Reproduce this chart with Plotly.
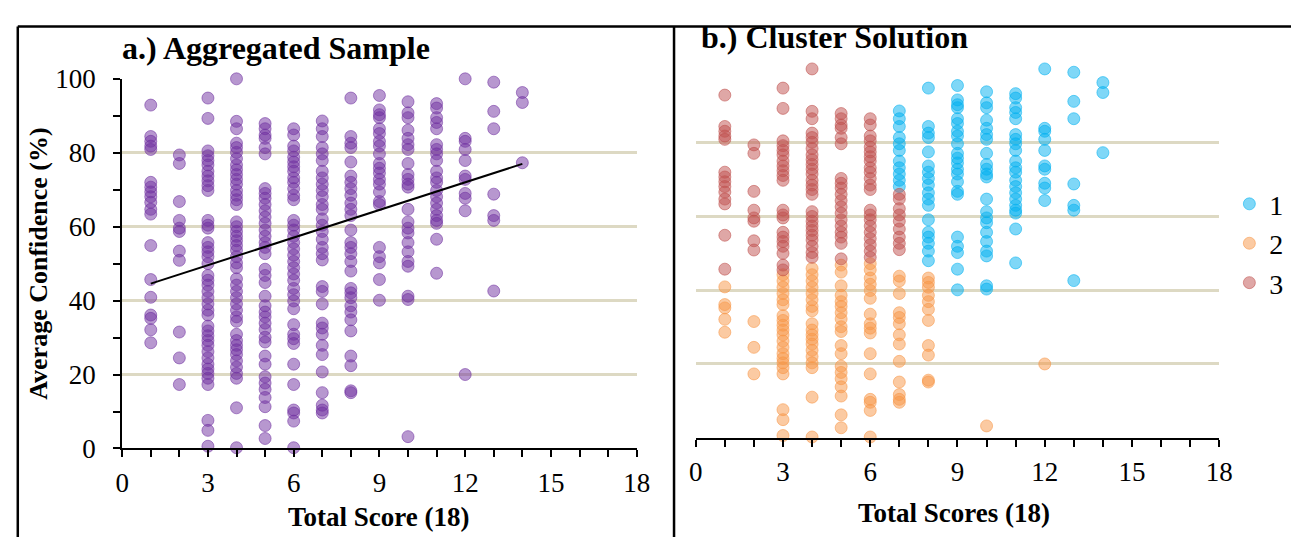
import plotly.graph_objects as go

# Total score (out of 18) and average confidence (%) per respondent, split by cluster.
# Cluster 1: higher scores, mid-to-high confidence
c1_score = (
    [7] * 11 + [8] * 18 + [9] * 22 + [10] * 22 + [11] * 21 + [12] * 10 + [13] * 7 + [14] * 3
)
c1_conf = [
    88.6, 86.5, 84.4, 81.4, 79.7, 77.9, 75.0, 73.2, 71.5, 69.8, 68.1,
    94.8, 84.4, 82.6, 81.4, 77.5, 73.7, 72.0, 70.3, 68.5, 66.4, 64.7, 63.0, 59.1, 55.7, 54.4, 52.7, 50.6, 48.0,
    95.5, 91.6, 90.3, 89.5, 86.5, 85.2, 83.1, 81.8, 79.7, 77.1, 75.8, 74.5, 72.8, 71.5, 69.4, 66.8, 66.0,
    54.4, 51.9, 50.2, 45.7, 40.1,
    93.8, 90.8, 89.5, 86.1, 83.9, 82.2, 80.9, 77.1, 74.1, 72.8, 71.5, 70.7, 64.7, 61.3, 59.6, 58.3, 55.7,
    53.2, 50.6, 49.3, 41.2, 40.3,
    93.3, 92.1, 89.5, 88.2, 86.5, 82.2, 80.9, 79.7, 77.9, 75.0, 73.2, 72.0, 69.8, 68.1, 66.4, 64.7, 63.0,
    61.7, 60.9, 56.6, 47.4,
    100.0, 83.9, 83.1, 80.9, 77.9, 73.7, 72.8, 69.0, 67.7, 64.3,
    99.1, 91.2, 86.5, 68.8, 63.0, 61.7, 42.6,
    96.3, 93.6, 77.3,
]

# Cluster 2: low confidence
c2_score = (
    [1] * 5 + [2] * 3 + [3] * 21 + [4] * 19 + [5] * 19 + [6] * 16 + [7] * 13 + [8] * 11 + [10] + [12]
)
c2_conf = [
    40.9, 36.1, 35.2, 32.1, 28.6,
    31.5, 24.5, 17.3,
    44.2, 42.5, 40.8, 39.1, 37.4, 36.1, 33.1, 31.8, 30.5, 29.2, 27.9, 26.2, 24.5, 22.8, 21.5, 20.3, 19.0,
    17.3, 7.6, 4.9, 0.6,
    45.9, 44.2, 42.5, 40.8, 39.1, 37.4, 35.6, 34.4, 30.9, 29.2, 27.9, 26.7, 25.4, 23.7, 22.0, 20.3, 19.0,
    11.0, 0.2,
    46.8, 44.9, 41.2, 38.6, 36.9, 35.6, 33.9, 32.2, 30.1, 28.8, 25.0, 22.8, 19.4, 17.7, 16.0, 13.8, 11.3,
    6.2, 2.7,
    47.2, 45.5, 43.3, 41.6, 39.9, 37.8, 33.5, 30.9, 29.7, 28.4, 22.8, 17.3, 10.4, 9.6, 7.4, 0.2,
    43.8, 42.5, 39.1, 33.9, 32.6, 30.9, 27.9, 25.4, 20.7, 15.1, 11.7, 10.4, 9.6,
    43.3, 42.1, 40.8, 38.6, 36.9, 34.8, 31.8, 25.0, 22.4, 15.6, 15.1,
    3.2,
    20.0,
]

# Cluster 3: low scores, high confidence
c3_score = [1] * 14 + [2] * 8 + [3] * 21 + [4] * 26 + [5] * 19 + [6] * 22 + [7] * 9
c3_conf = [
    92.9, 84.4, 83.1, 81.8, 80.9, 72.0, 70.7, 69.4, 68.1, 66.6, 64.7, 63.4, 54.9, 45.7,
    79.4, 77.1, 66.8, 61.7, 59.6, 58.7, 53.4, 50.9,
    94.8, 89.3, 80.5, 79.2, 77.9, 76.7, 75.0, 73.7, 72.4, 71.1, 69.8, 61.7, 60.4, 59.6, 55.7, 54.4, 53.2,
    51.9, 50.0, 46.8, 45.5,
    100.0, 88.5, 86.5, 82.6, 81.4, 80.1, 78.4, 76.7, 75.4, 74.1, 72.8, 71.5, 69.8, 68.5, 67.3, 66.0, 61.3,
    60.0, 58.7, 57.4, 56.2, 54.9, 53.6, 51.9, 50.2, 48.9,
    87.9, 86.5, 84.8, 83.9, 81.4, 79.7, 70.3, 69.0, 67.7, 66.0, 64.3, 62.6, 60.9, 59.1, 57.4, 55.7, 54.4,
    52.7, 48.5,
    86.5, 84.8, 81.8, 80.5, 78.8, 77.5, 76.2, 75.0, 73.2, 72.0, 70.3, 68.5, 67.3, 61.7, 60.4, 59.1, 57.4,
    55.7, 54.0, 52.3, 50.6, 48.9,
    66.0, 64.7, 62.1, 60.4, 58.7, 56.6, 54.4, 52.7, 51.0,
]

# Fitted linear trend for the whole sample (end points of the fitted line)
trend_score = [1, 14]
trend_conf = [44.6, 77.0]

cluster_names = ["1", "2", "3"]
cluster_colors = ["0,176,240", "247,150,70", "192,80,77"]
purple = "112,48,160"

x_ticks = list(range(0, 19))
x_labels = [str(v) if v % 3 == 0 else "" for v in x_ticks]

SERIF = "Liberation Serif"
GRID = "#DDD9C3"

all_score = c1_score + c2_score + c3_score
all_conf = c1_conf + c2_conf + c3_conf

fig = go.Figure()


def marker(rgb):
    return dict(size=12, color=f"rgba({rgb},0.5)", line=dict(width=1, color=f"rgba({rgb},0.55)"))


# Panel a: everyone in one colour plus the linear trend
fig.add_trace(go.Scatter(
    x=all_score, y=all_conf, mode="markers", marker=marker(purple),
    showlegend=False, cliponaxis=False, xaxis="x", yaxis="y",
))
fig.add_trace(go.Scatter(
    x=trend_score, y=trend_conf, mode="lines", line=dict(color="black", width=2),
    showlegend=False, cliponaxis=False, xaxis="x", yaxis="y",
))

# Panel b: coloured by cluster membership
for name, rgb, xs, ys in zip(cluster_names, cluster_colors,
                             [c1_score, c2_score, c3_score], [c1_conf, c2_conf, c3_conf]):
    fig.add_trace(go.Scatter(
        x=xs, y=ys, mode="markers", name=name, marker=marker(rgb),
        cliponaxis=False, xaxis="x2", yaxis="y2",
    ))

x_common = dict(
    range=[0, 18], tickmode="array", tickvals=x_ticks, ticktext=x_labels,
    ticks="outside", ticklen=7, tickwidth=1.5, tickcolor="black",
    showline=True, linecolor="black", linewidth=2, showgrid=False, zeroline=False,
    tickfont=dict(family=SERIF, size=27, color="black"), ticklabelstandoff=2,
)

fig.update_layout(
    width=1305, height=552, margin=dict(l=0, r=0, t=0, b=0),
    paper_bgcolor="white", plot_bgcolor="white",
    xaxis=dict(domain=[0.0897, 0.4904], anchor="y", **x_common),
    yaxis=dict(
        domain=[0.1696, 0.8777], anchor="x", range=[0, 100], dtick=20,
        ticks="outside", ticklen=7, tickwidth=1.5, tickcolor="black",
        minor=dict(dtick=10, ticks="outside", ticklen=7, tickwidth=1.5, tickcolor="black", showgrid=False),
        showline=True, linecolor="black", linewidth=2,
        showgrid=True, gridcolor=GRID, gridwidth=2.5, zeroline=False,
        tickfont=dict(family=SERIF, size=27, color="black"), ticklabelstandoff=12,
    ),
    xaxis2=dict(domain=[0.5364, 0.9441], anchor="y2", **x_common),
    yaxis2=dict(
        domain=[0.1902, 0.8967], anchor="x2", range=[0, 100], dtick=20,
        showline=False, ticks="", showticklabels=False,
        showgrid=True, gridcolor=GRID, gridwidth=2.5, zeroline=False,
    ),
    legend=dict(
        x=0.952, y=0.562, xanchor="left", yanchor="middle",
        font=dict(family=SERIF, size=28, color="black"),
        itemwidth=30, tracegroupgap=0, bgcolor="rgba(0,0,0,0)",
    ),
    font=dict(family=SERIF, color="black"),
)

# Titles and axis captions
text_font = dict(family=SERIF, size=32, color="black")
fig.add_annotation(text="<b>a.) Aggregated Sample</b>", x=0.088, y=0.937, xref="paper", yref="paper",
                   xanchor="left", yanchor="middle", showarrow=False, font=text_font)
fig.add_annotation(text="<b>b.) Cluster Solution</b>", x=0.5387, y=0.957, xref="paper", yref="paper",
                   xanchor="left", yanchor="middle", showarrow=False, font=text_font)
fig.add_annotation(text="<b>Average Confidence (%)</b>", x=0.025, y=0.5236, xref="paper", yref="paper",
                   textangle=-90, xanchor="center", yanchor="middle", showarrow=False,
                   font=dict(family=SERIF, size=26, color="black"))
fig.add_annotation(text="<b>Total Score (18)</b>", x=0.2897, y=0.039, xref="paper", yref="paper",
                   xanchor="center", yanchor="middle", showarrow=False,
                   font=dict(family=SERIF, size=27, color="black"))
fig.add_annotation(text="<b>Total Scores (18)</b>", x=0.7379, y=0.0453, xref="paper", yref="paper",
                   xanchor="center", yanchor="middle", showarrow=False,
                   font=dict(family=SERIF, size=27, color="black"))

# Panel frame
frame = dict(type="line", xref="paper", yref="paper", line=dict(color="black", width=2.5))
fig.add_shape(x0=0.0084, x1=1.0, y0=0.978, y1=0.978, **frame)
fig.add_shape(x0=0.0084, x1=0.0084, y0=0.978, y1=0.0, **frame)
fig.add_shape(x0=0.5195, x1=0.5195, y0=0.978, y1=0.0, **frame)

fig.write_html("out.html")
